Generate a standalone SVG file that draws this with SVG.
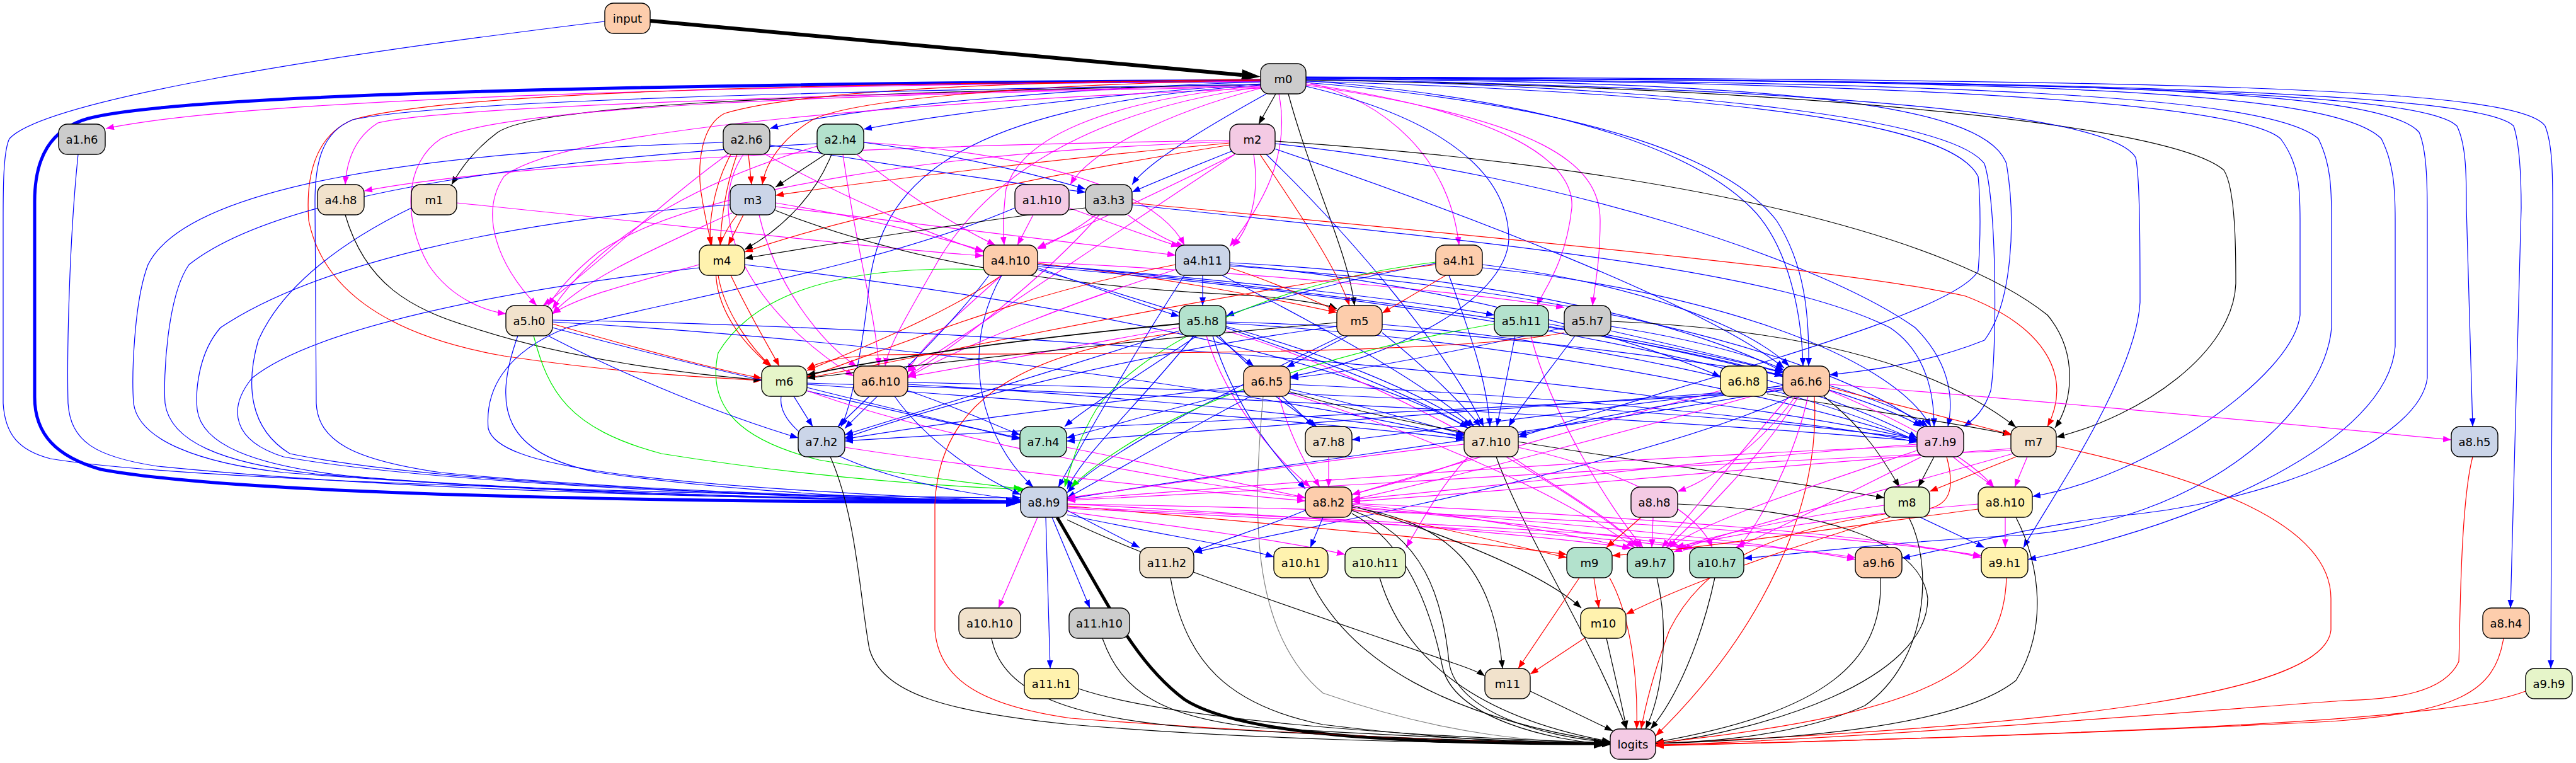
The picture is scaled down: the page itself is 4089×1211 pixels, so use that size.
<svg xmlns="http://www.w3.org/2000/svg" width="4089" height="1211" viewBox="0 0 4089 1211">
<style>
#edges path{fill:none;stroke-width:1.2}
.k{stroke:#000;marker-end:url(#ak)}
.b{stroke:#0000ff;marker-end:url(#ab)}
.r{stroke:#ff0000;marker-end:url(#ar)}
.p{stroke:#ff00ff;marker-end:url(#ap)}
.g{stroke:#00ee00;marker-end:url(#ag)}
.y{stroke:#808080;marker-end:url(#ak)}
.node rect{stroke:#000;stroke-width:1.4;rx:14;ry:14}
.node text{font-family:"DejaVu Sans","Liberation Sans",sans-serif;font-size:18px;text-anchor:middle;dominant-baseline:central;fill:#000}
.c0{fill:#cccccc}.c1{fill:#fdcdac}.c2{fill:#b3e2cd}.c3{fill:#f4cae4}.c4{fill:#f1e2cc}.c5{fill:#cbd5e8}.c6{fill:#fff2ae}.c7{fill:#e6f5c9}
</style>
<defs>
<marker id="ak" viewBox="0 0 13 10" refX="13" refY="5" markerWidth="13" markerHeight="10" markerUnits="userSpaceOnUse" orient="auto"><path d="M0,0L13,5L0,10z" fill="#000"/></marker>
<marker id="ab" viewBox="0 0 13 10" refX="13" refY="5" markerWidth="13" markerHeight="10" markerUnits="userSpaceOnUse" orient="auto"><path d="M0,0L13,5L0,10z" fill="#0000ff"/></marker>
<marker id="ar" viewBox="0 0 13 10" refX="13" refY="5" markerWidth="13" markerHeight="10" markerUnits="userSpaceOnUse" orient="auto"><path d="M0,0L13,5L0,10z" fill="#ff0000"/></marker>
<marker id="ap" viewBox="0 0 13 10" refX="13" refY="5" markerWidth="13" markerHeight="10" markerUnits="userSpaceOnUse" orient="auto"><path d="M0,0L13,5L0,10z" fill="#ff00ff"/></marker>
<marker id="ag" viewBox="0 0 13 10" refX="13" refY="5" markerWidth="13" markerHeight="10" markerUnits="userSpaceOnUse" orient="auto"><path d="M0,0L13,5L0,10z" fill="#00ee00"/></marker>
<marker id="akB" viewBox="0 0 30 18" refX="0" refY="9" markerWidth="30" markerHeight="18" markerUnits="userSpaceOnUse" orient="auto"><path d="M0,0L30,9L0,18z" fill="#000"/></marker>
<marker id="abB" viewBox="0 0 24 16" refX="0" refY="8" markerWidth="24" markerHeight="16" markerUnits="userSpaceOnUse" orient="auto"><path d="M0,0L24,8L0,16z" fill="#0000ff"/></marker>
<marker id="akC" viewBox="0 0 26 16" refX="0" refY="8" markerWidth="26" markerHeight="16" markerUnits="userSpaceOnUse" orient="auto"><path d="M0,0L26,8L0,16z" fill="#000"/></marker>
</defs>
<rect width="4089" height="1211" fill="#fff"/>
<g id="edges">
<path class="k" style="stroke-width:6;marker-end:url(#akB)" d="M1032,33 L1971,119"/>
<path class="b" style="stroke-width:5;marker-end:url(#abB)" d="M2001,128 C1200,132 300,145 140,188 C80,205 55,250 55,320 L55,630 C55,690 90,725 160,745 C400,790 1200,797 1597,797"/>
<path class="k" style="stroke-width:5;marker-end:url(#akC)" d="M1678,821 C1760,960 1800,1050 1880,1110 C1980,1175 2300,1180 2530,1180"/>
<path class="b" d="M960,34 C500,90 70,160 15,220 C5,240 5,300 5,350 L5,640 C8,690 30,715 80,728 C300,765 1200,788 1620,790"/>
<path class="k" d="M2025,149 L1998,197"/>
<path class="b" d="M2001,130 C1700,140 1350,170 1222,204"/>
<path class="b" d="M2003,133 C1750,150 1500,180 1371,205"/>
<path class="k" d="M2001,134 C1200,150 850,170 790,210 C750,240 730,270 717,293"/>
<path class="p" d="M2001,129 C1200,135 400,155 168,204"/>
<path class="p" d="M2001,136 C1300,150 700,170 600,195 C560,220 550,260 548,293"/>
<path class="p" d="M2001,138 C1300,150 800,170 700,220 C640,260 640,350 680,420 C720,480 780,495 803,498"/>
<path class="p" d="M2001,140 C1500,160 900,200 800,280 C760,340 790,420 852,485"/>
<path class="r" d="M2001,127 C1600,135 1350,160 1290,190 C1240,220 1215,260 1210,293"/>
<path class="r" d="M2001,126 C1500,130 1250,150 1150,180 C1112,200 1108,260 1112,300 C1118,340 1125,370 1130,389"/>
<path class="r" d="M2001,128 C1200,132 700,150 560,190 C500,215 485,280 490,350 C510,450 600,530 800,565 C1000,595 1150,600 1209,604"/>
<path class="p" d="M2001,140 C1850,180 1730,240 1699,293"/>
<path class="b" d="M2010,149 C1900,210 1820,260 1797,293"/>
<path class="p" d="M2001,136 C1750,160 1620,220 1597,300 C1592,340 1592,370 1594,389"/>
<path class="p" d="M2030,149 C2050,250 2000,330 1952,391"/>
<path class="p" d="M2073,130 C2200,160 2300,250 2316,389"/>
<path class="p" d="M2073,133 C2400,180 2500,260 2495,330 C2485,420 2450,460 2440,485"/>
<path class="p" d="M2073,135 C2450,190 2540,260 2540,350 C2540,420 2530,460 2528,485"/>
<path class="k" d="M2045,149 C2080,280 2140,400 2150,485"/>
<path class="b" d="M2073,137 C2300,190 2395,280 2395,380 C2390,480 2200,570 2048,598"/>
<path class="b" d="M2073,128 C2500,160 2700,250 2780,330 C2840,390 2860,500 2862,581"/>
<path class="b" d="M2073,131 C2550,170 2750,260 2820,350 C2865,420 2872,500 2871,581"/>
<path class="b" d="M2073,126 C2700,140 3100,190 3150,260 C3170,320 3170,560 3160,620 C3150,650 3135,665 3117,677"/>
<path class="b" d="M2073,125 C2800,130 3150,160 3185,260 C3200,350 3195,480 3150,540 C3050,580 2950,590 2904,595"/>
<path class="k" d="M2073,127 C2900,140 3450,200 3530,270 C3549,300 3549,400 3549,450 C3545,560 3400,660 3264,694"/>
<path class="b" d="M2073,124 C3000,130 3550,160 3620,220 C3650,260 3651,300 3651,350 L3651,500 C3640,600 3400,760 3226,788"/>
<path class="b" d="M2073,124 C3100,130 3600,150 3680,220 C3700,260 3701,300 3701,350 L3701,520 C3690,650 3500,830 3200,850 C3000,860 2850,880 2768,886"/>
<path class="b" d="M2073,123 C3200,128 3700,140 3780,220 C3800,260 3802,300 3802,350 L3802,550 C3790,700 3500,830 3219,888"/>
<path class="b" d="M2073,123 C3300,128 3780,140 3840,210 C3853,240 3853,300 3853,350 L3853,600 C3840,700 3600,800 3350,820 C3200,840 3100,870 3019,886"/>
<path class="b" d="M2073,126 C2900,140 3350,180 3390,250 C3397,280 3397,400 3397,480 C3390,600 3250,800 3212,869"/>
<path class="b" d="M2073,123 C3400,128 3850,150 3900,200 C3915,230 3915,280 3915,330 L3925,677"/>
<path class="b" d="M2073,123 C3400,127 3940,150 3990,200 C4000,230 4002,280 4002,330 L3985,965"/>
<path class="b" d="M2073,122 C3500,126 4000,140 4040,200 C4052,230 4052,280 4052,330 L4049,1061"/>
<path class="b" d="M2073,129 C2800,150 3100,200 3140,280 C3144,320 3144,380 3140,430 C3100,500 2700,600 2410,694"/>
<path class="p" d="M2001,138 C1700,180 1550,300 1480,430 C1440,500 1410,550 1405,581"/>
<path class="b" d="M2001,135 C1500,170 1400,300 1380,450 C1370,550 1350,650 1335,677"/>
<path class="b" d="M2001,134 C1300,145 700,160 560,190 C510,210 500,260 500,320 L502,640 C505,700 560,730 700,750 C1000,780 1400,790 1620,795"/>
<path class="r" d="M1952,227 C1700,250 1400,285 1231,310"/>
<path class="r" d="M1952,230 C1700,270 1350,340 1182,400"/>
<path class="r" d="M2000,245 C2050,320 2120,420 2142,485"/>
<path class="p" d="M1960,245 C1850,300 1720,360 1647,393"/>
<path class="p" d="M1990,245 C2000,310 1985,360 1957,391"/>
<path class="b" d="M1955,240 C1880,270 1830,290 1797,305"/>
<path class="p" d="M1952,225 C1500,240 1100,300 950,400 C900,440 880,470 870,485"/>
<path class="p" d="M1952,223 C1400,230 800,260 578,303"/>
<path class="k" d="M2024,224 C2700,270 3100,380 3250,500 C3300,560 3290,640 3262,679"/>
<path class="b" d="M2024,228 C2500,280 2900,420 3040,520 C3100,580 3100,640 3092,677"/>
<path class="b" d="M2020,235 C2300,330 2700,480 2832,584"/>
<path class="b" d="M2010,245 C2150,380 2300,560 2355,677"/>
<path class="p" d="M1960,245 C1800,350 1550,520 1441,590"/>
<path class="r" d="M1188,245 L1193,293"/>
<path class="r" d="M1170,245 C1150,300 1145,350 1143,389"/>
<path class="r" d="M1160,245 C1130,300 1125,360 1128,389"/>
<path class="b" d="M1222,230 C1400,260 1600,290 1723,305"/>
<path class="p" d="M1215,245 C1350,320 1500,380 1561,400"/>
<path class="p" d="M1155,245 C1050,320 950,420 862,485"/>
<path class="p" d="M1180,245 C1110,350 1200,500 1355,597"/>
<path class="b" d="M1148,226 C700,240 300,290 235,420 C212,480 209,600 212,640 C220,700 320,735 450,750 C900,785 1350,793 1620,795"/>
<path class="k" d="M1310,245 L1231,297"/>
<path class="k" d="M1320,245 C1290,320 1230,370 1182,396"/>
<path class="p" d="M1360,245 C1450,320 1540,370 1580,389"/>
<path class="p" d="M1371,226 C1600,240 1830,290 1880,389"/>
<path class="p" d="M1338,245 C1360,400 1390,500 1395,581"/>
<path class="p" d="M1297,232 C1100,290 950,380 877,490"/>
<path class="b" d="M1297,228 C900,250 450,300 300,420 C265,470 259,600 262,640 C270,700 350,735 500,752 C900,785 1350,793 1620,796"/>
<path class="b" d="M1371,226 C1550,250 1670,285 1723,300"/>
<path class="p" d="M725,322 C1100,360 1400,395 1561,406"/>
<path class="b" d="M653,330 C550,380 450,450 410,540 C390,610 395,680 460,720 C700,770 1300,790 1620,796"/>
<path class="k" d="M548,341 C580,450 650,490 750,520 C900,570 1100,595 1209,603"/>
<path class="b" d="M124,245 C110,380 106,560 108,640 C112,700 150,725 250,740 C700,785 1300,792 1620,796"/>
<path class="r" d="M1180,341 L1156,389"/>
<path class="p" d="M1231,322 C1400,350 1500,380 1561,398"/>
<path class="p" d="M1231,328 C1500,360 1750,390 1866,405"/>
<path class="p" d="M1205,341 C1230,450 1300,540 1360,582"/>
<path class="p" d="M1162,338 C1050,390 930,440 877,498"/>
<path class="b" d="M1159,325 C800,350 500,420 350,520 C315,560 310,620 313,650 C320,705 400,738 550,755 C900,787 1350,794 1620,797"/>
<path class="r" d="M1170,341 C1100,430 1150,520 1223,581"/>
<path class="k" d="M1231,334 C1500,440 1800,460 2000,470 C2080,478 2110,485 2122,490"/>
<path class="p" d="M1640,341 L1615,389"/>
<path class="p" d="M1697,330 C1780,360 1850,385 1872,391"/>
<path class="b" d="M1611,330 C1400,420 1100,470 900,520 C800,560 770,620 775,680 C790,740 1000,770 1620,796"/>
<path class="k" d="M1723,330 C1550,350 1300,390 1182,410"/>
<path class="p" d="M1740,341 C1700,370 1670,385 1647,395"/>
<path class="p" d="M1790,341 C1830,370 1860,385 1880,391"/>
<path class="p" d="M1745,341 C1650,450 1500,560 1441,597"/>
<path class="r" d="M1797,322 C2400,380 2950,430 3120,470 C3250,520 3290,600 3250,677"/>
<path class="b" d="M1797,325 C2300,380 2800,420 3000,520 C3060,560 3070,630 3070,677"/>
<path class="r" d="M1160,437 C1190,500 1220,550 1237,581"/>
<path class="r" d="M1140,437 C1150,500 1200,560 1225,582"/>
<path class="p" d="M1110,420 C1000,450 920,470 877,498"/>
<path class="b" d="M1110,425 C800,460 500,520 400,600 C360,650 370,700 450,725 C700,770 1300,792 1620,796"/>
<path class="b" d="M1182,420 C1600,470 2100,550 2330,679"/>
<path class="b" d="M1647,425 C1750,460 1830,490 1872,502"/>
<path class="r" d="M1647,418 C1850,440 2000,470 2122,496"/>
<path class="r" d="M1590,437 C1500,500 1350,560 1281,588"/>
<path class="p" d="M1590,437 C1520,500 1460,550 1441,590"/>
<path class="b" d="M1647,420 C1900,440 2200,470 2372,500"/>
<path class="p" d="M1647,416 C1950,430 2300,460 2483,488"/>
<path class="b" d="M1570,437 C1500,530 1400,620 1341,680"/>
<path class="g" d="M1561,428 C1350,420 1200,460 1140,560 C1120,650 1180,700 1300,730 C1500,765 1580,770 1622,776"/>
<path class="b" d="M1647,420 C2100,460 2600,530 2830,597"/>
<path class="b" d="M1647,428 C1900,500 2200,600 2330,679"/>
<path class="b" d="M1647,423 C2200,470 2800,560 3043,695"/>
<path class="b" d="M1590,437 C1520,560 1560,700 1640,773"/>
<path class="b" d="M1909,437 L1909,485"/>
<path class="r" d="M1952,425 C2030,450 2090,480 2122,493"/>
<path class="r" d="M1866,420 C1600,470 1400,560 1281,598"/>
<path class="p" d="M1866,428 C1700,480 1500,560 1441,600"/>
<path class="b" d="M1952,420 C2300,450 2600,540 2731,598"/>
<path class="b" d="M1952,417 C2400,440 2700,520 2830,590"/>
<path class="b" d="M1940,437 C2100,520 2250,600 2340,677"/>
<path class="b" d="M1952,422 C2500,460 2900,560 3055,677"/>
<path class="b" d="M1880,437 C1800,560 1720,700 1680,773"/>
<path class="r" d="M2295,437 L2194,497"/>
<path class="b" d="M2279,418 C2150,440 2000,480 1946,502"/>
<path class="g" d="M2279,416 C2000,450 1800,560 1740,650 C1710,700 1700,740 1690,773"/>
<path class="r" d="M2279,420 C1900,470 1500,560 1281,600"/>
<path class="b" d="M2353,420 C2600,450 2780,520 2840,581"/>
<path class="b" d="M2353,425 C2700,460 3000,560 3065,677"/>
<path class="b" d="M2300,437 C2330,520 2360,600 2365,677"/>
<path class="r" d="M877,514 C1000,550 1150,590 1209,600"/>
<path class="b" d="M870,533 C1000,600 1150,660 1267,695"/>
<path class="b" d="M877,520 C1100,580 1400,650 1619,695"/>
<path class="b" d="M822,533 C780,650 800,720 950,750 C1200,785 1450,793 1620,797"/>
<path class="g" d="M847,533 C870,620 900,680 1050,720 C1300,760 1500,772 1628,777"/>
<path class="b" d="M877,511 C1400,540 2000,620 2324,695"/>
<path class="b" d="M877,508 C1600,520 2600,600 3043,697"/>
<path class="k" style="stroke-width:1.8" d="M1872,514 C1600,540 1400,570 1281,595"/>
<path class="b" d="M1930,533 L1990,581"/>
<path class="p" d="M1872,520 C1700,550 1550,580 1441,598"/>
<path class="b" d="M1935,533 C2000,600 2060,650 2085,677"/>
<path class="b" d="M1946,518 C2100,560 2250,620 2335,677"/>
<path class="b" d="M1946,513 C2400,540 2800,620 3043,698"/>
<path class="b" d="M1946,511 C2300,520 2600,560 2830,595"/>
<path class="b" d="M1872,525 C1700,580 1500,640 1341,690"/>
<path class="b" d="M1900,533 C1800,600 1720,650 1690,677"/>
<path class="b" d="M1895,533 C1800,650 1720,720 1694,776"/>
<path class="p" d="M1915,533 C1950,650 2040,740 2080,773"/>
<path class="b" d="M1925,533 C1960,650 2030,730 2072,776"/>
<path class="p" d="M1946,525 C2200,600 2500,780 2605,869"/>
<path class="k" d="M2122,512 C1800,540 1500,575 1281,600"/>
<path class="b" d="M2140,533 L2042,583"/>
<path class="b" d="M2194,528 C2260,580 2320,640 2350,677"/>
<path class="b" d="M2194,515 C2500,540 2850,610 3043,700"/>
<path class="b" d="M2122,518 C1800,560 1500,640 1341,695"/>
<path class="b" d="M2130,533 C1950,620 1750,720 1694,782"/>
<path class="b" d="M2405,533 L2376,677"/>
<path class="g" d="M2372,514 C2000,580 1800,680 1700,773"/>
<path class="b" d="M2458,518 C2700,560 2950,620 3050,677"/>
<path class="b" d="M2458,514 C2600,540 2750,570 2830,592"/>
<path class="p" d="M2430,533 C2460,650 2550,800 2608,869"/>
<path class="k" d="M2557,510 C2800,520 3050,560 3200,678"/>
<path class="b" d="M2557,518 C2700,540 2800,570 2832,588"/>
<path class="b" d="M2557,525 C2800,580 3000,630 3060,677"/>
<path class="b" d="M2500,533 C2450,600 2410,650 2395,677"/>
<path class="b" d="M2483,520 C2300,560 2150,590 2048,600"/>
<path class="r" d="M2483,528 C2300,565 1700,560 1400,563 C1330,566 1300,575 1281,585"/>
<path class="b" d="M1260,629 L1290,677"/>
<path class="b" d="M1281,615 C1420,650 1550,680 1619,697"/>
<path class="b" d="M1281,610 C1700,640 2100,670 2324,697"/>
<path class="b" d="M1281,608 C2000,630 2700,670 3043,700"/>
<path class="p" d="M1281,620 C1500,700 1900,770 2072,790"/>
<path class="b" d="M1240,629 C1230,700 1400,770 1620,793"/>
<path class="b" d="M1380,629 L1330,677"/>
<path class="b" d="M1441,620 C1530,650 1590,680 1619,690"/>
<path class="b" d="M1420,629 C1470,700 1560,760 1620,785"/>
<path class="b" d="M1441,610 C1800,630 2100,660 2324,692"/>
<path class="b" d="M1441,607 C2100,620 2700,650 3043,697"/>
<path class="r" d="M1872,528 C1600,560 1490,650 1484,800 L1484,1000 C1490,1080 1560,1120 1700,1140 C2100,1170 2400,1178 2556,1180"/>
<path class="b" d="M2025,629 L2090,677"/>
<path class="b" d="M1974,612 C1750,640 1500,670 1341,697"/>
<path class="b" d="M1974,620 C1850,650 1750,680 1693,695"/>
<path class="b" d="M2048,618 C2150,640 2250,670 2326,690"/>
<path class="p" d="M2030,629 C2050,700 2080,750 2095,773"/>
<path class="b" d="M1985,629 C1850,700 1750,760 1694,790"/>
<path class="y" d="M2005,629 C1990,800 1980,1000 2100,1100 C2300,1170 2450,1178 2556,1180"/>
<path class="b" d="M2048,610 C2500,630 2900,670 3043,702"/>
<path class="p" d="M2048,625 C2300,700 2500,800 2595,869"/>
<path class="k" d="M2048,622 C2300,700 2700,740 2991,790"/>
<path class="k" d="M2805,625 C2950,650 3100,670 3192,690"/>
<path class="p" d="M2731,620 C2500,680 2300,740 2146,785"/>
<path class="k" d="M2895,629 C2960,680 2990,730 3015,773"/>
<path class="r" d="M2904,615 C3000,640 3120,670 3194,690"/>
<path class="p" d="M2904,610 C3300,640 3700,680 3891,698"/>
<path class="p" d="M2850,629 C2800,700 2720,760 2663,780"/>
<path class="p" d="M2830,615 C2600,680 2300,760 2146,793"/>
<path class="b" d="M2830,618 C2500,680 2000,740 1694,792"/>
<path class="b" d="M2830,612 C2650,640 2500,670 2410,690"/>
<path class="p" d="M2855,629 C2800,720 2700,820 2645,869"/>
<path class="p" d="M2870,629 C2850,720 2800,820 2760,869"/>
<path class="p" d="M2840,629 C2760,720 2680,820 2638,869"/>
<path class="r" d="M2880,629 C2890,800 2800,1000 2628,1168"/>
<path class="b" d="M2830,620 C2400,650 1800,670 1341,700"/>
<path class="b" d="M2830,616 C2400,650 2000,680 1693,700"/>
<path class="p" d="M2904,620 C3000,660 3120,720 3165,773"/>
<path class="b" d="M2845,629 C2600,740 2100,830 1895,877"/>
<path class="b" d="M2830,612 C2600,640 2300,680 2146,698"/>
<path class="k" d="M1318,725 C1360,820 1365,950 1380,1030 C1400,1100 1500,1130 1700,1150 C2000,1175 2300,1180 2556,1181"/>
<path class="p" d="M1341,710 C1600,750 1900,780 2072,795"/>
<path class="p" d="M1693,710 C1850,740 1980,770 2072,790"/>
<path class="p" d="M2109,725 L2109,773"/>
<path class="p" d="M2340,725 C2250,760 2180,775 2146,785"/>
<path class="k" d="M2375,725 C2420,850 2520,1000 2582,1157"/>
<path class="p" d="M2330,725 C2280,780 2250,840 2232,869"/>
<path class="p" d="M2400,725 C2480,780 2570,830 2600,869"/>
<path class="p" d="M2410,710 C2550,740 2690,800 2718,869"/>
<path class="p" d="M2324,705 C2100,730 1850,770 1694,790"/>
<path class="k" d="M3070,725 L3045,773"/>
<path class="p" d="M3100,725 C3130,750 3150,760 3165,773"/>
<path class="p" d="M3043,705 C2700,730 2400,770 2146,793"/>
<path class="p" d="M3043,715 C2850,780 2700,830 2650,869"/>
<path class="r" d="M3090,725 C3110,800 3080,810 3020,812 C2800,840 2700,900 2650,1000 C2620,1080 2610,1130 2605,1157"/>
<path class="p" d="M3043,708 C2500,730 2000,770 1694,793"/>
<path class="p" d="M3050,725 C2900,800 2800,850 2755,869"/>
<path class="r" d="M3200,725 L3063,780"/>
<path class="p" d="M3218,725 L3198,773"/>
<path class="p" d="M3192,712 C2800,740 2400,780 2146,796"/>
<path class="p" d="M3192,715 C2600,740 2000,780 1694,794"/>
<path class="r" d="M3264,708 C3500,760 3700,830 3700,950 L3700,1000 C3690,1100 3300,1150 2628,1180"/>
<path class="p" d="M3195,720 C2950,790 2750,840 2657,876"/>
<path class="r" d="M3925,725 C3905,800 3905,1000 3903,1050 C3880,1100 3800,1110 3720,1112 C3600,1120 3000,1170 2628,1183"/>
<path class="p" d="M1647,821 L1585,965"/>
<path class="b" d="M1660,821 L1667,1061"/>
<path class="b" d="M1670,821 L1730,965"/>
<path class="b" d="M1694,810 L1809,869"/>
<path class="b" d="M1694,817 C1850,850 1980,870 2022,884"/>
<path class="p" d="M1694,812 C1900,840 2050,860 2135,880"/>
<path class="k" d="M1694,825 C1850,900 2100,980 2300,1050 C2330,1060 2350,1068 2357,1073"/>
<path class="p" d="M1694,800 C2100,820 2450,850 2590,870"/>
<path class="r" d="M1694,803 C2000,830 2300,855 2487,880"/>
<path class="p" d="M1694,805 C2300,830 2800,860 2945,885"/>
<path class="p" d="M1694,800 C2400,810 2950,850 3145,882"/>
<path class="p" d="M1694,807 C2200,830 2550,850 2685,871"/>
<path class="b" d="M2100,821 L2080,869"/>
<path class="k" d="M2146,810 C2260,850 2290,950 2300,1050 C2310,1130 2450,1170 2556,1178"/>
<path class="k" d="M2146,815 C2230,860 2270,960 2290,1060 C2310,1140 2460,1175 2556,1182"/>
<path class="k" d="M2146,805 C2300,830 2370,900 2385,1061"/>
<path class="r" d="M2146,808 C2300,840 2420,870 2487,885"/>
<path class="k" d="M2146,802 C2300,850 2450,910 2510,965"/>
<path class="p" d="M2146,800 C2350,820 2500,850 2588,870"/>
<path class="p" d="M2146,803 C2400,830 2600,855 2690,870"/>
<path class="p" d="M2146,806 C2500,830 2800,860 2945,888"/>
<path class="p" d="M2146,799 C2600,820 3000,850 3145,885"/>
<path class="b" d="M2072,810 C2000,840 1930,860 1895,876"/>
<path class="r" d="M2605,821 L2550,869"/>
<path class="p" d="M2624,821 L2622,869"/>
<path class="k" d="M2663,800 C2900,810 3050,860 3060,950 C3060,1080 2800,1160 2628,1180"/>
<path class="b" d="M3048,821 L3150,869"/>
<path class="r" d="M3000,821 C2800,880 2650,940 2581,975"/>
<path class="k" d="M3030,821 C3070,900 3060,1050 2960,1120 C2850,1170 2700,1178 2628,1180"/>
<path class="p" d="M2991,802 C2850,820 2720,850 2660,870"/>
<path class="p" d="M3183,821 L3183,869"/>
<path class="k" d="M3200,821 C3240,900 3250,1000 3200,1080 C3100,1160 2800,1175 2628,1180"/>
<path class="r" d="M3140,808 C2900,840 2700,870 2559,882"/>
<path class="p" d="M3140,800 C2900,820 2750,850 2660,868"/>
<path class="k" d="M1858,917 C1880,1050 1950,1120 2100,1150 C2300,1175 2450,1180 2556,1181"/>
<path class="k" d="M2078,917 C2140,1050 2300,1140 2556,1178"/>
<path class="k" d="M2190,917 C2230,1050 2350,1140 2556,1177"/>
<path class="r" d="M2530,917 L2538,965"/>
<path class="r" d="M2507,917 L2410,1061"/>
<path class="r" d="M2555,917 C2590,980 2600,1080 2598,1157"/>
<path class="k" d="M2630,917 C2650,1000 2640,1100 2612,1157"/>
<path class="k" d="M2722,917 C2700,1020 2660,1110 2620,1157"/>
<path class="k" d="M2985,917 C2990,1050 2900,1130 2628,1178"/>
<path class="r" d="M3185,917 C3180,1050 3100,1130 2628,1179"/>
<path class="k" d="M1574,1013 C1590,1100 1700,1140 1900,1155 C2200,1172 2400,1178 2556,1180"/>
<path class="k" d="M1750,1013 C1780,1100 1850,1140 2000,1155 C2300,1172 2450,1178 2556,1180"/>
<path class="k" d="M1712,1093 C1850,1140 2200,1168 2556,1179"/>
<path class="r" d="M2515,1013 L2429,1070"/>
<path class="k" d="M2550,1013 C2565,1080 2575,1120 2582,1157"/>
<path class="k" d="M2429,1097 L2560,1160"/>
<path class="r" d="M3974,1013 C3960,1100 3900,1130 3700,1145 C3300,1165 2900,1178 2628,1182"/>
<path class="r" d="M4009,1097 C3900,1140 3500,1160 2628,1184"/>
</g>
<g id="n-input" class="node"><rect class="c1" x="960" y="5" width="72" height="48"/><text x="996" y="29">input</text></g>
<g id="n-m0" class="node"><rect class="c0" x="2001" y="101" width="72" height="48"/><text x="2037" y="125">m0</text></g>
<g id="n-a1.h6" class="node"><rect class="c0" x="93" y="197" width="74" height="48"/><text x="130" y="221">a1.h6</text></g>
<g id="n-a2.h6" class="node"><rect class="c0" x="1148" y="197" width="74" height="48"/><text x="1185" y="221">a2.h6</text></g>
<g id="n-a2.h4" class="node"><rect class="c2" x="1297" y="197" width="74" height="48"/><text x="1334" y="221">a2.h4</text></g>
<g id="n-m2" class="node"><rect class="c3" x="1952" y="197" width="72" height="48"/><text x="1988" y="221">m2</text></g>
<g id="n-a4.h8" class="node"><rect class="c4" x="504" y="293" width="74" height="48"/><text x="541" y="317">a4.h8</text></g>
<g id="n-m1" class="node"><rect class="c4" x="653" y="293" width="72" height="48"/><text x="689" y="317">m1</text></g>
<g id="n-m3" class="node"><rect class="c5" x="1159" y="293" width="72" height="48"/><text x="1195" y="317">m3</text></g>
<g id="n-a1.h10" class="node"><rect class="c3" x="1611" y="293" width="86" height="48"/><text x="1654" y="317">a1.h10</text></g>
<g id="n-a3.h3" class="node"><rect class="c0" x="1723" y="293" width="74" height="48"/><text x="1760" y="317">a3.h3</text></g>
<g id="n-m4" class="node"><rect class="c6" x="1110" y="389" width="72" height="48"/><text x="1146" y="413">m4</text></g>
<g id="n-a4.h10" class="node"><rect class="c1" x="1561" y="389" width="86" height="48"/><text x="1604" y="413">a4.h10</text></g>
<g id="n-a4.h11" class="node"><rect class="c5" x="1866" y="389" width="86" height="48"/><text x="1909" y="413">a4.h11</text></g>
<g id="n-a4.h1" class="node"><rect class="c1" x="2279" y="389" width="74" height="48"/><text x="2316" y="413">a4.h1</text></g>
<g id="n-a5.h0" class="node"><rect class="c4" x="803" y="485" width="74" height="48"/><text x="840" y="509">a5.h0</text></g>
<g id="n-a5.h8" class="node"><rect class="c2" x="1872" y="485" width="74" height="48"/><text x="1909" y="509">a5.h8</text></g>
<g id="n-m5" class="node"><rect class="c1" x="2122" y="485" width="72" height="48"/><text x="2158" y="509">m5</text></g>
<g id="n-a5.h11" class="node"><rect class="c2" x="2372" y="485" width="86" height="48"/><text x="2415" y="509">a5.h11</text></g>
<g id="n-a5.h7" class="node"><rect class="c0" x="2483" y="485" width="74" height="48"/><text x="2520" y="509">a5.h7</text></g>
<g id="n-m6" class="node"><rect class="c7" x="1209" y="581" width="72" height="48"/><text x="1245" y="605">m6</text></g>
<g id="n-a6.h10" class="node"><rect class="c1" x="1355" y="581" width="86" height="48"/><text x="1398" y="605">a6.h10</text></g>
<g id="n-a6.h5" class="node"><rect class="c1" x="1974" y="581" width="74" height="48"/><text x="2011" y="605">a6.h5</text></g>
<g id="n-a6.h8" class="node"><rect class="c6" x="2731" y="581" width="74" height="48"/><text x="2768" y="605">a6.h8</text></g>
<g id="n-a6.h6" class="node"><rect class="c1" x="2830" y="581" width="74" height="48"/><text x="2867" y="605">a6.h6</text></g>
<g id="n-a7.h2" class="node"><rect class="c5" x="1267" y="677" width="74" height="48"/><text x="1304" y="701">a7.h2</text></g>
<g id="n-a7.h4" class="node"><rect class="c2" x="1619" y="677" width="74" height="48"/><text x="1656" y="701">a7.h4</text></g>
<g id="n-a7.h8" class="node"><rect class="c4" x="2072" y="677" width="74" height="48"/><text x="2109" y="701">a7.h8</text></g>
<g id="n-a7.h10" class="node"><rect class="c4" x="2324" y="677" width="86" height="48"/><text x="2367" y="701">a7.h10</text></g>
<g id="n-a7.h9" class="node"><rect class="c3" x="3043" y="677" width="74" height="48"/><text x="3080" y="701">a7.h9</text></g>
<g id="n-m7" class="node"><rect class="c4" x="3192" y="677" width="72" height="48"/><text x="3228" y="701">m7</text></g>
<g id="n-a8.h5" class="node"><rect class="c5" x="3891" y="677" width="74" height="48"/><text x="3928" y="701">a8.h5</text></g>
<g id="n-a8.h9" class="node"><rect class="c5" x="1620" y="773" width="74" height="48"/><text x="1657" y="797">a8.h9</text></g>
<g id="n-a8.h2" class="node"><rect class="c1" x="2072" y="773" width="74" height="48"/><text x="2109" y="797">a8.h2</text></g>
<g id="n-a8.h8" class="node"><rect class="c3" x="2589" y="773" width="74" height="48"/><text x="2626" y="797">a8.h8</text></g>
<g id="n-m8" class="node"><rect class="c7" x="2991" y="773" width="72" height="48"/><text x="3027" y="797">m8</text></g>
<g id="n-a8.h10" class="node"><rect class="c6" x="3140" y="773" width="86" height="48"/><text x="3183" y="797">a8.h10</text></g>
<g id="n-a11.h2" class="node"><rect class="c4" x="1809" y="869" width="86" height="48"/><text x="1852" y="893">a11.h2</text></g>
<g id="n-a10.h1" class="node"><rect class="c6" x="2022" y="869" width="86" height="48"/><text x="2065" y="893">a10.h1</text></g>
<g id="n-a10.h11" class="node"><rect class="c7" x="2135" y="869" width="96" height="48"/><text x="2183" y="893">a10.h11</text></g>
<g id="n-m9" class="node"><rect class="c2" x="2487" y="869" width="72" height="48"/><text x="2523" y="893">m9</text></g>
<g id="n-a9.h7" class="node"><rect class="c2" x="2583" y="869" width="74" height="48"/><text x="2620" y="893">a9.h7</text></g>
<g id="n-a10.h7" class="node"><rect class="c2" x="2682" y="869" width="86" height="48"/><text x="2725" y="893">a10.h7</text></g>
<g id="n-a9.h6" class="node"><rect class="c1" x="2945" y="869" width="74" height="48"/><text x="2982" y="893">a9.h6</text></g>
<g id="n-a9.h1" class="node"><rect class="c6" x="3145" y="869" width="74" height="48"/><text x="3182" y="893">a9.h1</text></g>
<g id="n-a10.h10" class="node"><rect class="c4" x="1522" y="965" width="98" height="48"/><text x="1571" y="989">a10.h10</text></g>
<g id="n-a11.h10" class="node"><rect class="c0" x="1697" y="965" width="96" height="48"/><text x="1745" y="989">a11.h10</text></g>
<g id="n-m10" class="node"><rect class="c6" x="2509" y="965" width="72" height="48"/><text x="2545" y="989">m10</text></g>
<g id="n-a8.h4" class="node"><rect class="c1" x="3941" y="965" width="74" height="48"/><text x="3978" y="989">a8.h4</text></g>
<g id="n-a11.h1" class="node"><rect class="c6" x="1626" y="1061" width="86" height="48"/><text x="1669" y="1085">a11.h1</text></g>
<g id="n-m11" class="node"><rect class="c4" x="2357" y="1061" width="72" height="48"/><text x="2393" y="1085">m11</text></g>
<g id="n-a9.h9" class="node"><rect class="c7" x="4009" y="1061" width="74" height="48"/><text x="4046" y="1085">a9.h9</text></g>
<g id="n-logits" class="node"><rect class="c3" x="2556" y="1157" width="72" height="48"/><text x="2592" y="1181">logits</text></g>
</svg>
